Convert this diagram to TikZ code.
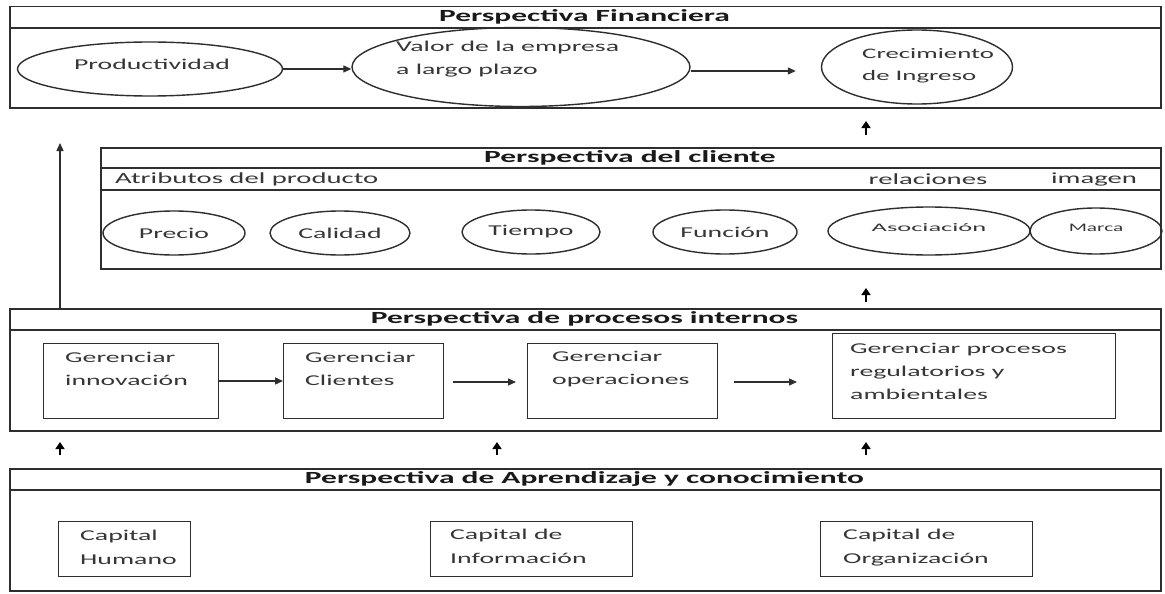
\documentclass[tikz,border=0pt]{standalone}
\usepackage{fontspec}
\setmainfont[FakeStretch=1.85]{Carlito}
\newfontfamily\widefont[FakeStretch=2.3]{Carlito}
\usetikzlibrary{shapes.geometric,arrows.meta}
\definecolor{ln}{HTML}{2E2E2E}
\definecolor{tx}{HTML}{363636}
\begin{document}
\begin{tikzpicture}[x=1pt,y=-1pt,
  frame/.style={draw=ln,line width=1.5pt,rectangle,inner sep=0pt,anchor=north west},
  sep/.style={draw=ln,line width=1.3pt},
  ttl/.style={inner sep=0pt,font=\fontsize{17}{20}\selectfont\bfseries,text=black!90},
  txt/.style={inner sep=0pt,align=left,anchor=west,font=\fontsize{15}{23}\selectfont,text=tx},
  ell/.style={draw=ln,line width=1.4pt,ellipse,inner sep=0pt},
  box/.style={draw=ln,line width=1.4pt,rectangle,inner sep=0pt,anchor=north west},
  arr/.style={draw=ln,line width=1.3pt,-{Triangle[length=8pt,width=7pt]}},
  sarr/.style={draw=black,line width=1.6pt,-{Triangle[length=7pt,width=9pt]}}]
\useasboundingbox (0,0) rectangle (1165,594);
\fill[white] (0,0) rectangle (1165,594);

% ---------- Perspectiva Financiera ----------
\node[frame,minimum width=1151pt,minimum height=101pt] (fin) at (9,6) {};
\draw[sep] ([yshift=-22pt]fin.north west) -- ([yshift=-22pt]fin.north east);
\node[ttl] (fint) at (584.5,17) {Perspectiva Financiera};
\node[ell,minimum width=265pt,minimum height=54pt] (prod) at (150,69) {};
\node[txt,anchor=center] (prodt) at (152,64) {Productividad};
\node[ell,minimum width=338pt,minimum height=79pt] (valor) at (521,67) {};
\node[txt,anchor=west] (valort) at (396,59) {Valor de la empresa\\a largo plazo};
\node[ell,minimum width=191pt,minimum height=74pt] (crec) at (917,67) {};
\node[txt,anchor=west,font=\fontsize{14.5}{22}\selectfont] (crect) at (862,66) {Crecimiento\\de Ingreso};
\draw[arr] (prod.east) -- (prod.east -| valor.west);
\draw[arr,shorten >=25pt] (valor.east |- 0,71) -- (crec.west |- 0,71);

% ---------- Perspectiva del cliente ----------
\node[frame,minimum width=1060pt,minimum height=121pt] (cli) at (100,147) {};
\draw[sep] ([yshift=-21pt]cli.north west) -- ([yshift=-21pt]cli.north east);
\draw[sep] ([yshift=-43pt]cli.north west) -- ([yshift=-43pt]cli.north east);
\node[ttl] (clit) at (630,157.5) {Perspectiva del cliente};
\node[txt,font=\fontsize{15.5}{18}\selectfont] (atr) at (115,179) {Atributos del producto};
\node[txt,anchor=center,font=\fontsize{15.5}{18}\selectfont] (rel) at (928,179) {relaciones};
\node[txt,anchor=center,font=\fontsize{15.5}{18}\selectfont] (img) at (1094,179) {imagen};
\node[ell,minimum width=142pt,minimum height=44pt,txt,anchor=center,draw=ln] (precio) at (174,233) {Precio};
\node[ell,minimum width=140pt,minimum height=44pt,txt,anchor=center,draw=ln] (calidad) at (340,233) {Calidad};
\node[ell,minimum width=138pt,minimum height=44pt,txt,anchor=center,draw=ln] (tiempo) at (531,232) {Tiempo};
\node[ell,minimum width=144pt,minimum height=44pt,txt,anchor=center,draw=ln] (funcion) at (725,232) {Función};
\node[ell,minimum width=202pt,minimum height=48pt] (asoc) at (929,231) {};
\node[inner sep=0pt,text=tx,font=\widefont\fontsize{11.5}{13}\selectfont] (asoct) at (929,228) {Asociación};
\node[ell,minimum width=132pt,minimum height=46pt] (marca) at (1096,231) {};
\node[inner sep=0pt,text=tx,font=\fontsize{11.5}{13}\selectfont] (marcat) at (1096,228) {Marca};

% ---------- Perspectiva de procesos internos ----------
\node[frame,minimum width=1151pt,minimum height=122pt] (proc) at (9,308) {};
\draw[sep] ([yshift=-22pt]proc.north west) -- ([yshift=-22pt]proc.north east);
\node[ttl] (proct) at (584.5,319) {Perspectiva de procesos internos};
\node[box,minimum width=175pt,minimum height=75pt] (b1) at (43,343) {};
\node[box,minimum width=160pt,minimum height=75pt] (b2) at (283,343) {};
\node[box,minimum width=190pt,minimum height=75pt] (b3) at (527,343) {};
\node[box,minimum width=283pt,minimum height=85pt] (b4) at (832,333) {};
\node[txt] (b1t) at (65,368.5) {Gerenciar\\innovación};
\node[txt] (b2t) at (305,368.5) {Gerenciar\\Clientes};
\node[txt] (b3t) at (552,369) {Gerenciar\\operaciones};
\node[txt] (b4t) at (850,371.5) {Gerenciar procesos\\regulatorios y\\ambientales};
\draw[arr] (b1.east |- 0,381) -- (b2.west |- 0,381);
\draw[arr,shorten <=9pt,shorten >=11pt] (b2.east |- 0,382) -- (b3.west |- 0,382);
\draw[arr,shorten <=16pt,shorten >=35pt] (b3.east |- 0,382) -- (b4.west |- 0,382);

% ---------- Perspectiva de Aprendizaje y conocimiento ----------
\node[frame,minimum width=1151pt,minimum height=122pt] (apr) at (9,468) {};
\draw[sep] ([yshift=-22pt]apr.north west) -- ([yshift=-22pt]apr.north east);
\node[ttl] (aprt) at (584.5,479) {Perspectiva de Aprendizaje y conocimiento};
\node[box,minimum width=132pt,minimum height=55pt] (c1) at (58,521) {};
\node[box,minimum width=202pt,minimum height=55pt] (c2) at (430,521) {};
\node[box,minimum width=212pt,minimum height=55pt] (c3) at (820,521) {};
\node[txt,font=\fontsize{15}{24}\selectfont] (c1t) at (80,547.5) {Capital\\Humano};
\node[txt,font=\fontsize{15}{24}\selectfont] (c2t) at (450,546.5) {Capital de\\Información};
\node[txt,font=\fontsize{15}{24}\selectfont] (c3t) at (843,547.5) {Capital de\\Organización};

% ---------- vertical arrows ----------
\coordinate (lat) at (60,143);
\draw[arr] (proc.north -| lat) -- (lat);
\coordinate (u1b) at (866,135); \coordinate (u1t) at (866,121);
\coordinate (u2b) at (866,302); \coordinate (u2t) at (866,288);
\coordinate (u3b) at (60,455);  \coordinate (u3t) at (60,442);
\coordinate (u4b) at (497,455); \coordinate (u4t) at (497,442);
\coordinate (u5b) at (866,455); \coordinate (u5t) at (866,442);
\draw[sarr] (u1b) -- (u1t);
\draw[sarr] (u2b) -- (u2t);
\draw[sarr] (u3b) -- (u3t);
\draw[sarr] (u4b) -- (u4t);
\draw[sarr] (u5b) -- (u5t);
\end{tikzpicture}
\end{document}
